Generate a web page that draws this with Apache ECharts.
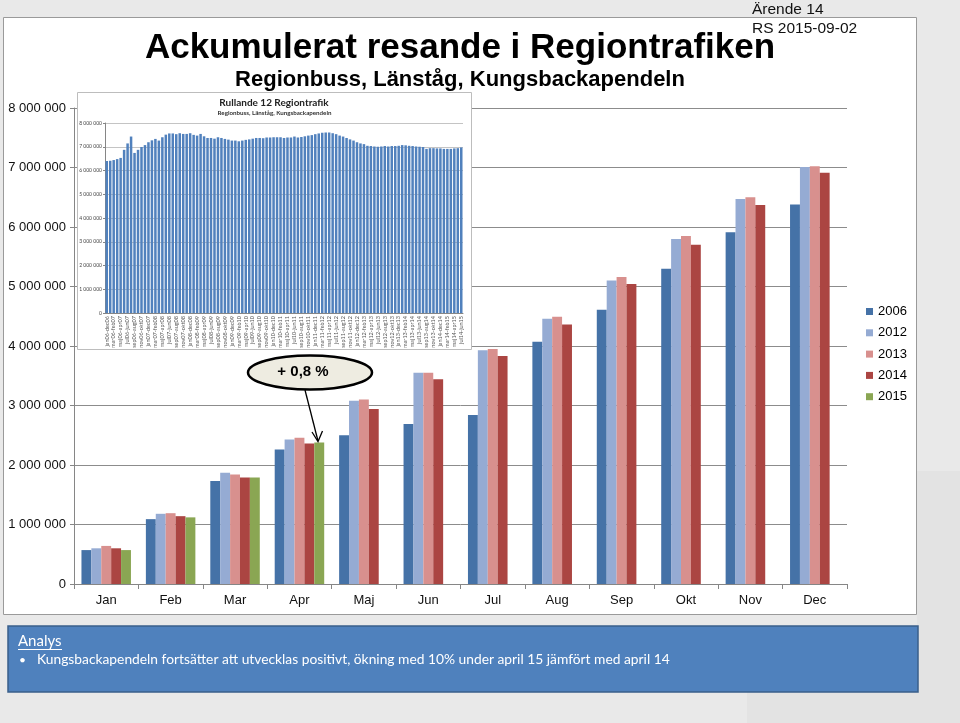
<!DOCTYPE html>
<html>
<head>
<meta charset="utf-8">
<script src="https://cdn.jsdelivr.net/npm/echarts@6/dist/echarts.min.js"></script>
<style>
html,body{margin:0;padding:0;background:#e9e9e9;}
#chart{width:960px;height:723px;}
</style>
</head>
<body>
<div id="chart"></div>
<script>
// ---- Main chart data ----
const months = ['Jan','Feb','Mar','Apr','Maj','Jun','Jul','Aug','Sep','Okt','Nov','Dec'];
const seriesNames = ['2006','2012','2013','2014','2015'];
const y2006 = [570000,1090000,1730000,2260000,2500000,2690000,2840000,4070000,4610000,5300000,5910000,6380000];
const y2012 = [600000,1180000,1870000,2430000,3080000,3550000,3930000,4460000,5100000,5800000,6470000,7010000];
const y2013 = [640000,1190000,1840000,2460000,3100000,3550000,3950000,4490000,5160000,5850000,6500000,7020000];
const y2014 = [600000,1140000,1790000,2360000,2940000,3440000,3830000,4360000,5040000,5700000,6370000,6910000];
const y2015 = [570000,1120000,1790000,2380000,null,null,null,null,null,null,null,null];
const mainTicks = [0,1000000,2000000,3000000,4000000,5000000,6000000,7000000,8000000];

// ---- Inset (rolling 12) data ----
const insetLabels = [
'jan06-dec06','feb06-jan07','mar06-feb07','apr06-mar07','maj06-apr07','jun06-maj07','jul06-jun07','aug06-jul07','sep06-aug07','okt06-sep07','nov06-okt07','dec06-nov07',
'jan07-dec07','feb07-jan08','mar07-feb08','apr07-mar08','maj07-apr08','jun07-maj08','jul07-jun08','aug07-jul08','sep07-aug08','okt07-sep08','nov07-okt08','dec07-nov08',
'jan08-dec08','feb08-jan09','mar08-feb09','apr08-mar09','maj08-apr09','jun08-maj09','jul08-jun09','aug08-jul09','sep08-aug09','okt08-sep09','nov08-okt09','dec08-nov09',
'jan09-dec09','feb09-jan10','mar09-feb10','apr09-mar10','maj09-apr10','jun09-maj10','jul09-jun10','aug09-jul10','sep09-aug10','okt09-sep10','nov09-okt10','dec09-nov10',
'jan10-dec10','feb10-jan11','mar10-feb11','apr10-mar11','maj10-apr11','jun10-maj11','jul10-jun11','aug10-jul11','sep10-aug11','okt10-sep11','nov10-okt11','dec10-nov11',
'jan11-dec11','feb11-jan12','mar11-feb12','apr11-mar12','maj11-apr12','jun11-maj12','jul11-jun12','aug11-jul12','sep11-aug12','okt11-sep12','nov11-okt12','dec11-nov12',
'jan12-dec12','feb12-jan13','mar12-feb13','apr12-mar13','maj12-apr13','jun12-maj13','jul12-jun13','aug12-jul13','sep12-aug13','okt12-sep13','nov12-okt13','dec12-nov13',
'jan13-dec13','feb13-jan14','mar13-feb14','apr13-mar14','maj13-apr14','jun13-maj14','jul13-jun14','aug13-jul14','sep13-aug14','okt13-sep14','nov13-okt14','dec13-nov14',
'jan14-dec14','feb14-jan15','mar14-feb15','apr14-mar15','maj14-apr15','jun14-maj15','jul14-jun15'
];
const insetValues = [
6400000,6410000,6440000,6480000,6530000,6870000,7140000,7430000,6740000,6870000,6990000,7070000,
7190000,7270000,7330000,7260000,7400000,7510000,7560000,7560000,7530000,7570000,7540000,7540000,
7570000,7500000,7470000,7540000,7440000,7370000,7370000,7340000,7400000,7370000,7330000,7300000,
7260000,7260000,7230000,7260000,7290000,7310000,7340000,7370000,7370000,7360000,7390000,7390000,
7400000,7400000,7400000,7370000,7390000,7390000,7430000,7390000,7410000,7440000,7470000,7490000,
7530000,7560000,7590000,7600000,7600000,7570000,7530000,7470000,7430000,7370000,7310000,7260000,
7190000,7140000,7110000,7040000,7030000,7010000,7000000,7010000,7030000,7010000,7030000,7030000,
7040000,7070000,7060000,7040000,7030000,7010000,7000000,6990000,6910000,6940000,6940000,6930000,
6930000,6910000,6910000,6910000,6930000,6940000,6970000
];

const colors = ['#4572a7','#95abd3','#d8908e','#ab4542','#8aa653'];
const fmt = v => String(v).replace(/\B(?=(\d{3})+(?!\d))/g, ' ');
const ARIAL = "'Liberation Sans', Arial, sans-serif";
const CAL = "Lato, 'Open Sans', sans-serif";

const chart = echarts.init(document.getElementById('chart'), null, {renderer:'canvas'});

const mainData = [y2006, y2012, y2013, y2014, y2015];

const option = {
  backgroundColor: '#e9e9e9',
  animation: false,
  color: colors,
  legend: {
    data: seriesNames,
    orient: 'vertical',
    left: 866, top: 305,
    itemWidth: 7, itemHeight: 7, itemGap: 8.3,
    padding: 0,
    icon: 'rect',
    textStyle: {fontSize: 13, fontFamily: ARIAL, color: '#000', lineHeight: 13}
  },
  grid: [
    {left: 74, right: 113, top: 108, bottom: 139},
    {left: 105, right: 497, top: 123, bottom: 410}
  ],
  xAxis: [
    {
      type: 'category', gridIndex: 0, data: months, z: 1,
      axisLine: {lineStyle: {color: '#868686', width: 1}},
      axisTick: {show: true, length: 5, lineStyle: {color: '#868686'}},
      axisLabel: {fontSize: 13, fontFamily: ARIAL, color: '#111', margin: 10}
    },
    {
      type: 'category', gridIndex: 1, data: insetLabels, z: 3,
      axisLine: {lineStyle: {color: '#868686', width: 1}},
      axisTick: {show: false},
      axisLabel: {fontSize: 5.5, fontFamily: CAL, color: '#555', rotate: 90, interval: 1, margin: 3}
    }
  ],
  yAxis: [
    {
      type: 'value', gridIndex: 0, min: 0, max: 8000000, interval: 1000000, z: 1,
      axisLine: {show: true, lineStyle: {color: '#868686'}},
      axisTick: {show: true, length: 4, lineStyle: {color: '#868686'}},
      splitLine: {lineStyle: {color: '#8c8c8c', width: 1}},
      axisLabel: {fontSize: 13, fontFamily: ARIAL, color: '#111', margin: 8, formatter: v => fmt(v)}
    },
    {
      type: 'value', gridIndex: 1, min: 0, max: 8000000, interval: 1000000, z: 3,
      axisLine: {show: true, lineStyle: {color: '#868686'}},
      axisTick: {show: true, length: 2, lineStyle: {color: '#868686'}},
      splitLine: {lineStyle: {color: '#b5b5b5', width: 0.8}},
      axisLabel: {fontSize: 5, fontFamily: CAL, color: '#444', margin: 3, formatter: v => fmt(v)}
    }
  ],
  series: seriesNames.map((n, i) => ({
    name: n, type: 'bar', xAxisIndex: 0, yAxisIndex: 0,
    data: mainData[i], barWidth: 9.9, barGap: '0%', z: 2,
    itemStyle: {color: colors[i]}
  })).concat([{
    name: 'Rullande 12', type: 'bar', xAxisIndex: 1, yAxisIndex: 1,
    data: insetValues, barCategoryGap: '28%', z: 4,
    itemStyle: {color: '#5181bd'}
  }]),
  graphic: [
    {type: 'rect', z: -5, shape: {x: 917, y: 471, width: 43, height: 252}, style: {fill: '#e3e3e3'}},
    {type: 'rect', z: -5, shape: {x: 747, y: 692, width: 213, height: 31}, style: {fill: '#e3e3e3'}},
    {type: 'rect', z: -1, shape: {x: 3.5, y: 17.5, width: 913, height: 597}, style: {fill: '#ffffff', stroke: '#9a9a9a', lineWidth: 1}},
    {type: 'rect', z: 2, shape: {x: 77.5, y: 92.5, width: 394, height: 257}, style: {fill: '#ffffff', stroke: '#bdbdbd', lineWidth: 1}},
    {type: 'text', z: 6, x: 752, y: 10, style: {text: 'Ärende 14', fontSize: 15.5, fontFamily: ARIAL, fill: '#111', textAlign: 'left', textVerticalAlign: 'middle'}},
    {type: 'text', z: 6, x: 752, y: 29, style: {text: 'RS 2015-09-02', fontSize: 15.5, fontFamily: ARIAL, fill: '#111', textAlign: 'left', textVerticalAlign: 'middle'}},
    {type: 'text', z: 5, x: 460, y: 48, style: {text: 'Ackumulerat resande i Regiontrafiken', fontSize: 35, fontWeight: 'bold', fontFamily: ARIAL, fill: '#000', textAlign: 'center', textVerticalAlign: 'middle'}},
    {type: 'text', z: 5, x: 460, y: 80, style: {text: 'Regionbuss, Länståg, Kungsbackapendeln', fontSize: 22, fontWeight: 'bold', fontFamily: ARIAL, fill: '#000', textAlign: 'center', textVerticalAlign: 'middle'}},
    {type: 'text', z: 5, x: 274, y: 102.5, style: {text: 'Rullande 12 Regiontrafik', fontSize: 10, fontWeight: 'bold', fontFamily: CAL, fill: '#222', textAlign: 'center', textVerticalAlign: 'middle'}},
    {type: 'text', z: 5, x: 274.5, y: 113, style: {text: 'Regionbuss, Länståg, Kungsbackapendeln', fontSize: 6.2, fontWeight: 'bold', fontFamily: CAL, fill: '#333', textAlign: 'center', textVerticalAlign: 'middle'}},
    {type: 'ellipse', z: 10, shape: {cx: 310, cy: 372.5, rx: 62, ry: 17}, style: {fill: '#eeece1', stroke: '#000', lineWidth: 2.5}},
    {type: 'text', z: 11, x: 303, y: 372, style: {text: '+ 0,8 %', fontSize: 15, fontWeight: 'bold', fontFamily: ARIAL, fill: '#000', textAlign: 'center', textVerticalAlign: 'middle'}},
    {type: 'line', z: 11, shape: {x1: 305, y1: 390, x2: 318, y2: 441}, style: {stroke: '#000', lineWidth: 1.3}},
    {type: 'polyline', z: 11, shape: {points: [[312, 432], [318, 441.5], [322.5, 431]]}, style: {stroke: '#000', lineWidth: 1.3, fill: null}},
    {type: 'rect', z: 6, shape: {x: 8, y: 626, width: 910, height: 66}, style: {fill: '#4f81bd', stroke: '#3a5f8b', lineWidth: 1.5}},
    {type: 'text', z: 7, x: 18, y: 641, style: {text: 'Analys', fontSize: 15, fontFamily: CAL, fill: '#fff', textAlign: 'left', textVerticalAlign: 'middle'}},
    {type: 'line', z: 7, shape: {x1: 18, y1: 649.5, x2: 62, y2: 649.5}, style: {stroke: '#fff', lineWidth: 1}},
    {type: 'text', z: 7, x: 19, y: 660, style: {text: '•', fontSize: 12, fontFamily: CAL, fill: '#fff', textAlign: 'left', textVerticalAlign: 'middle'}},
    {type: 'text', z: 7, x: 37, y: 660, style: {text: 'Kungsbackapendeln fortsätter att utvecklas positivt, ökning med 10% under april 15 jämfört med april 14', fontSize: 13.8, fontFamily: CAL, fill: '#fff', textAlign: 'left', textVerticalAlign: 'middle'}}
  ]
};
chart.setOption(option);
</script>
</body>
</html>
